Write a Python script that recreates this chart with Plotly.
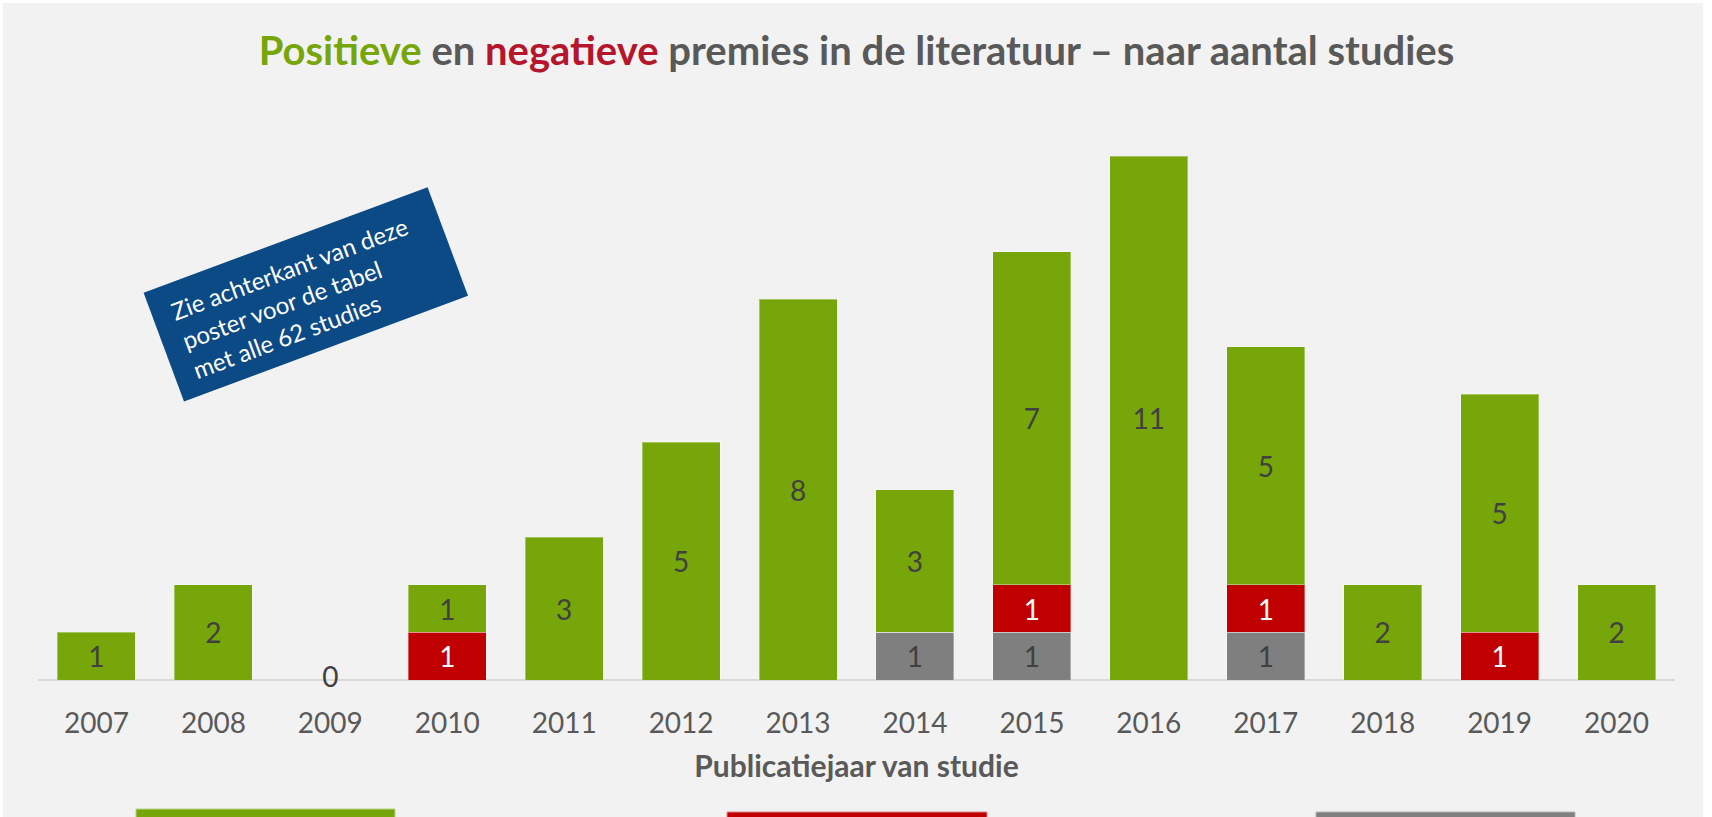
import math
import plotly.graph_objects as go

# ---- data ----
years = ["2007", "2008", "2009", "2010", "2011", "2012", "2013",
         "2014", "2015", "2016", "2017", "2018", "2019", "2020"]
neutral = [0, 0, 0, 0, 0, 0, 0, 1, 1, 0, 1, 0, 0, 0]     # grey
negative = [0, 0, 0, 1, 0, 0, 0, 0, 1, 0, 1, 0, 1, 0]    # red
positive = [1, 2, 0, 1, 3, 5, 8, 3, 7, 11, 5, 2, 5, 2]   # green
box_lines = ["Zie achterkant van deze", "poster voor de tabel", "met alle 62 studies"]

# ---- style ----
W, H = 1712, 817
ML, MR, MT, MB = 38, 37, 100, 137
PW, PH = W - ML - MR, H - MT - MB
YMAX = PH / 47.6
FONT = "Lato, 'Open Sans', sans-serif"
GREEN, RED, GREY = "#76A609", "#C00000", "#7F7F7F"
TXT = "#595959"
BG = "#F2F2F2"


def px2paper(x, y):
    return (x - ML) / PW, (H - MB - y) / PH


def lbl(vals):
    return [str(v) if v > 0 else "" for v in vals]


fig = go.Figure()
for vals, col, tcol, name in [
    (neutral, GREY, "#404040", "Neutraal"),
    (negative, RED, "#FFFFFF", "Negatieve premie"),
    (positive, GREEN, "#404040", "Positieve premie"),
]:
    fig.add_trace(go.Bar(
        x=years, y=vals, name=name, marker=dict(color=col, line=dict(color="rgba(255,255,255,0.35)", width=1)),
        text=lbl(vals), textposition="inside", insidetextanchor="middle",
        textfont=dict(family=FONT, size=28, color=tcol), constraintext="none",
        hoverinfo="skip", showlegend=False,
    ))

totals = [a + b + c for a, b, c in zip(neutral, negative, positive)]
zx = [y for y, t in zip(years, totals) if t == 0]
fig.add_trace(go.Scatter(
    x=zx, y=[0] * len(zx), mode="text", text=["0"] * len(zx),
    textposition="middle center", textfont=dict(family=FONT, size=28, color="#404040"),
    showlegend=False, hoverinfo="skip", cliponaxis=False,
))

shapes = []
# grey background panel
x0, y0 = px2paper(3, 3)
x1, y1 = px2paper(1703, 830)
shapes.append(dict(type="rect", xref="paper", yref="paper", x0=x0, y0=y0, x1=x1, y1=y1,
                   fillcolor=BG, line=dict(width=0), layer="below"))
# axis line
shapes.append(dict(type="line", xref="paper", yref="paper", x0=0, x1=1, y0=0, y1=0,
                   line=dict(color="#D9D9D9", width=2), layer="below"))
# legend swatches (cut off at bottom)
for xa, xb, top, col, edge in [(136, 395, 809, GREEN, "#B7D38A"), (727, 987, 812, RED, "#D9898C"),
                               (1316, 1575, 812, GREY, "#B5B5B5")]:
    a0, b0 = px2paper(xa, top)
    a1, b1 = px2paper(xb, 840)
    shapes.append(dict(type="rect", xref="paper", yref="paper", x0=a0, x1=a1, y0=b1, y1=b0,
                       fillcolor=col, line=dict(color=edge, width=1)))

# rotated blue note box
cx, cy, bw, bh, ang = 305.8, 294.3, 303, 116, 20.4
ca, sa = math.cos(math.radians(ang)), math.sin(math.radians(ang))
pts = []
for dx, dy in [(-bw / 2, -bh / 2), (bw / 2, -bh / 2), (bw / 2, bh / 2), (-bw / 2, bh / 2)]:
    rx = cx + dx * ca + dy * sa
    ry = cy - dx * sa + dy * ca
    pts.append(px2paper(rx, ry))
path = "M " + " L ".join(f"{p[0]:.5f},{p[1]:.5f}" for p in pts) + " Z"
shapes.append(dict(type="path", xref="paper", yref="paper", path=path,
                   fillcolor="#0C4A86", line=dict(width=0)))

tx, ty = px2paper(300, 297)
annotations = [dict(
    xref="paper", yref="paper", x=tx, y=ty, xanchor="center", yanchor="middle",
    text="<br>".join(box_lines), showarrow=False, textangle=-ang, align="left",
    font=dict(family=FONT, size=24, color="white"),
)]

fig.update_layout(
    width=W, height=H, margin=dict(l=ML, r=MR, t=MT, b=MB),
    paper_bgcolor="white", plot_bgcolor="rgba(0,0,0,0)",
    barmode="stack", bargap=0.333,
    title=dict(
        text="<b><span style='color:#76A609'>Positieve</span> en "
             "<span style='color:#B5162B'>negatieve</span> premies in de literatuur – naar aantal studies</b>",
        x=0.5, xref="paper", xanchor="center", y=1 - 51 / H, yref="container", yanchor="middle",
        font=dict(family=FONT, size=40, color=TXT),
    ),
    xaxis=dict(
        type="category", range=[-0.5, 13.5], showgrid=False, zeroline=False, showline=False,
        ticks="", ticklabelstandoff=24, tickfont=dict(family=FONT, size=28, color=TXT),
        title=dict(text="<b>Publicatiejaar van studie</b>", standoff=17,
                   font=dict(family=FONT, size=30, color=TXT)),
    ),
    yaxis=dict(range=[0, YMAX], visible=False, showgrid=False, zeroline=False),
    shapes=shapes, annotations=annotations,
)

fig.write_html("out.html", config={"displayModeBar": False},
               post_script="document.body.style.margin='0px';document.body.style.overflow='hidden';")
